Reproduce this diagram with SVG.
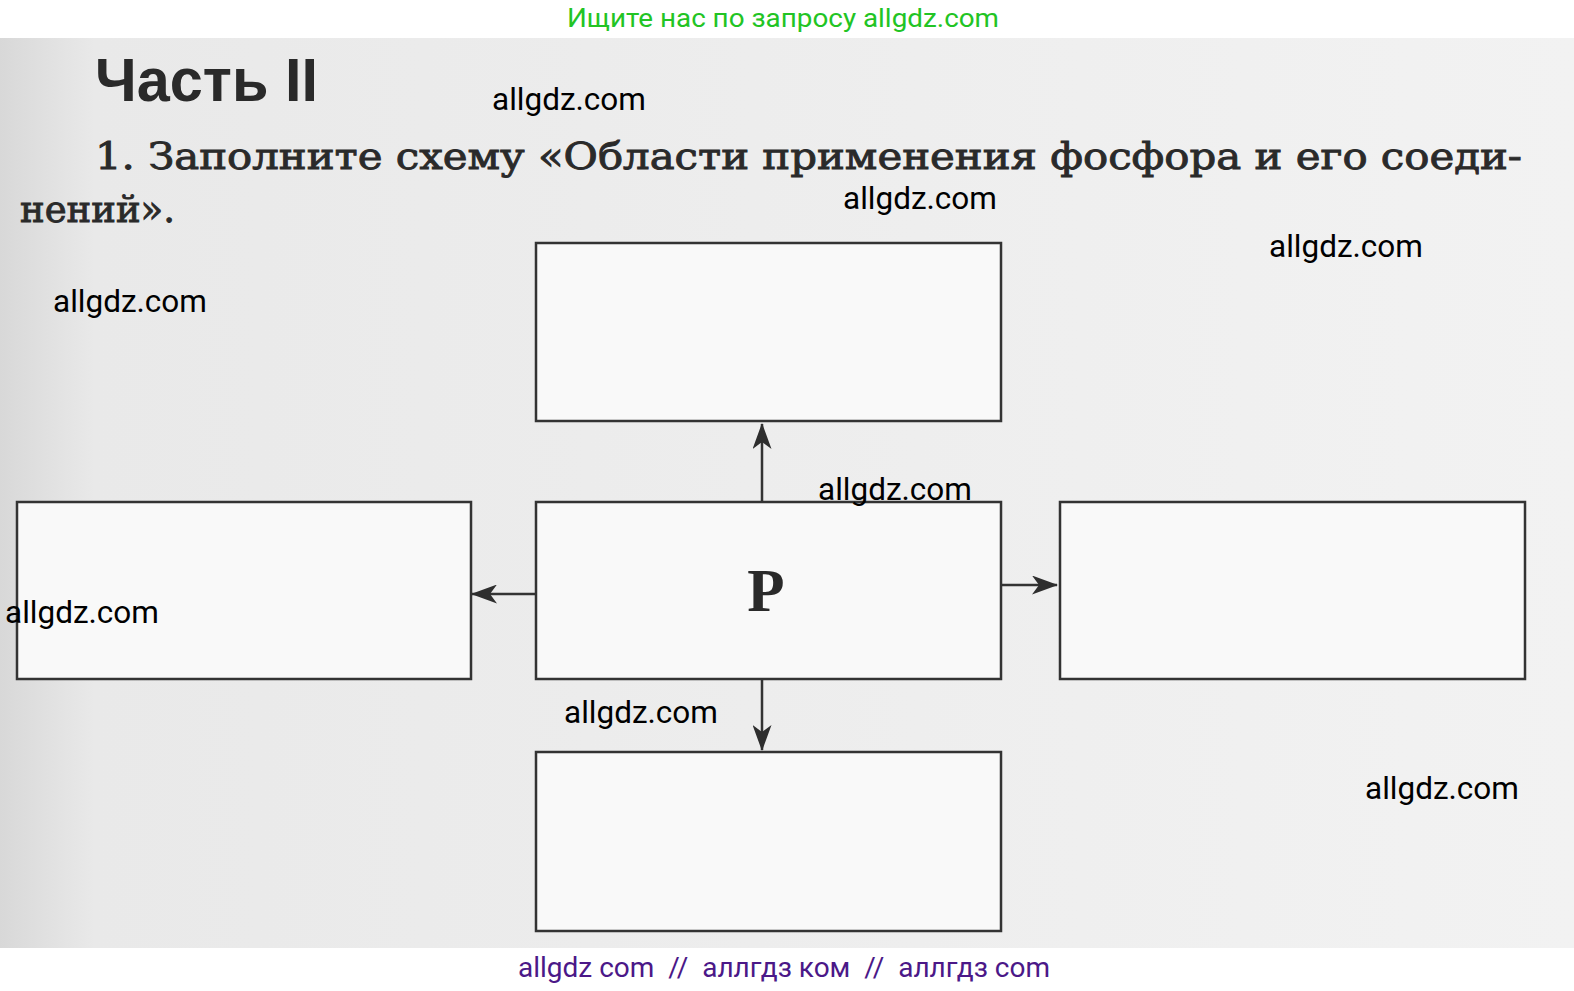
<svg xmlns="http://www.w3.org/2000/svg" width="1574" height="991" viewBox="0 0 1574 991">
<defs>
<marker id="ah" viewBox="0 0 26 19" refX="25" refY="9.5" markerWidth="26" markerHeight="19" markerUnits="userSpaceOnUse" orient="auto">
<path d="M0,0 L26,9.5 L0,19 L7,9.5 Z" fill="#2e2e2e"/>
</marker>
<linearGradient id="bg" x1="0" y1="0" x2="1" y2="0">
<stop offset="0" stop-color="#d8d8d8"/>
<stop offset="0.06" stop-color="#e9e9e9"/>
<stop offset="1" stop-color="#f2f2f2"/>
</linearGradient>
</defs>
<style>
.box{fill:#f9f9f9;stroke:#333;stroke-width:2.5}
.con{stroke:#333;stroke-width:2.5;fill:none;marker-end:url(#ah)}
.wm{font-family:Roboto,"Liberation Sans",sans-serif;font-size:31.5px;fill:#000}
.serif{font-family:"DejaVu Serif","Liberation Serif",serif;fill:#2a2a2a;stroke:#2a2a2a;stroke-width:0.9}
</style>
<rect x="0" y="0" width="1574" height="991" fill="#fff"/>
<rect x="0" y="38" width="1574" height="910" fill="url(#bg)"/>
<text x="95" y="101" font-family="'Liberation Sans',Arial,sans-serif" font-weight="bold" font-size="62" fill="#2a2a2a" textLength="223" lengthAdjust="spacingAndGlyphs">Часть II</text>
<text class="serif" x="95" y="169" font-size="37" textLength="1427" lengthAdjust="spacingAndGlyphs">1. Заполните схему «Области применения фосфора и его соеди-</text>
<text class="serif" x="20" y="222" font-size="37" textLength="155" lengthAdjust="spacingAndGlyphs">нений».</text>
<g id="connectors">
<line class="con" x1="762" y1="502" x2="762" y2="424"/>
<line class="con" x1="762" y1="679" x2="762" y2="750"/>
<line class="con" x1="536" y1="594" x2="472" y2="594"/>
<line class="con" x1="1001" y1="585" x2="1057" y2="585"/>
</g>
<g id="node-top"><rect class="box" x="536" y="243" width="465" height="178"/></g>
<g id="node-center"><rect class="box" x="536" y="502" width="465" height="177"/>
<text x="766" y="611" text-anchor="middle" font-family="'Liberation Serif',serif" font-weight="bold" font-size="61" fill="#2a2a2a">P</text></g>
<g id="node-left"><rect class="box" x="17" y="502" width="454" height="177"/></g>
<g id="node-right"><rect class="box" x="1060" y="502" width="465" height="177"/></g>
<g id="node-bottom"><rect class="box" x="536" y="752" width="465" height="179"/></g>
<text x="783" y="27" text-anchor="middle" font-family="Roboto,'Liberation Sans',sans-serif" font-size="26" fill="#22c424" textLength="432" lengthAdjust="spacingAndGlyphs">Ищите нас по запросу allgdz.com</text>
<text class="wm" x="492" y="110">allgdz.com</text>
<text class="wm" x="843" y="209">allgdz.com</text>
<text class="wm" x="1269" y="257">allgdz.com</text>
<text class="wm" x="53" y="312">allgdz.com</text>
<text class="wm" x="818" y="500">allgdz.com</text>
<text class="wm" x="5" y="623">allgdz.com</text>
<text class="wm" x="564" y="723">allgdz.com</text>
<text class="wm" x="1365" y="799">allgdz.com</text>
<text x="518" y="977" font-family="Roboto,'Liberation Sans',sans-serif" font-size="27" fill="#4b1888" textLength="532" lengthAdjust="spacingAndGlyphs" xml:space="preserve">allgdz com  //  аллгдз ком  //  аллгдз com</text>
</svg>
